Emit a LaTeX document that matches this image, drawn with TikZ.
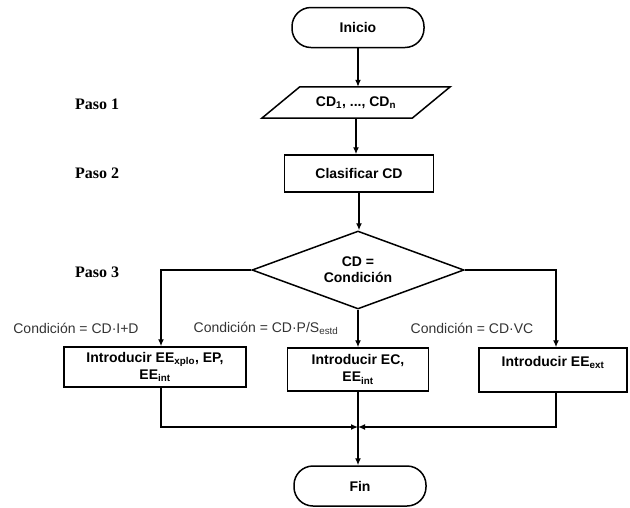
\documentclass[tikz,border=0pt]{standalone}
\usepackage{fontspec}
\setmainfont{Liberation Sans}
\newfontfamily\pasofont{Liberation Serif}
\usetikzlibrary{shapes.geometric,arrows.meta,calc}
\newcommand\subt[1]{\textsubscript{#1}}
\begin{document}
\begin{tikzpicture}[x=1pt,y=-1pt,
  terminal/.style={draw,line width=1.5pt,rounded corners=19pt,minimum width=132pt,minimum height=40pt,font=\fontsize{14}{17}\selectfont\bfseries,inner sep=0pt},
  procbox/.style={draw,line width=1.5pt,align=center,font=\fontsize{14}{17}\selectfont\bfseries,inner sep=0pt},
  pasolabel/.style={font=\fontsize{16}{19}\selectfont\pasofont\bfseries},
  condlabel/.style={font=\fontsize{14}{17}\selectfont,text=black!80},
  conn/.style={line width=1.3pt,-{Latex[length=7pt,width=6pt]}}]
\useasboundingbox (0,0) rectangle (630,507);

% main column
\node[terminal] (ini) at (358,27.5) {Inicio};
\node[minimum width=150pt,minimum height=31pt,inner sep=0pt,font=\fontsize{14}{17}\selectfont\bfseries] (p) at (356,102.5) {CD\subt{1}, ..., CD\subt{n}};
\draw[line width=1.5pt] ($(p.south west)+(-19,0)$) -- ($(p.north west)+(19,0)$) -- ($(p.north east)+(19,0)$) -- ($(p.south east)+(-19,0)$) -- cycle;
\node[procbox,minimum width=149pt,minimum height=37pt] (clas) at (359,173.5) {Clasificar CD};
\node[diamond,draw,line width=1.5pt,minimum width=212pt,minimum height=78pt,aspect=2.7,inner sep=0pt,align=center,font=\fontsize{14}{16}\selectfont\bfseries] (d) at (358,270) {CD =\\Condición};

% branches
\node[procbox,minimum width=182pt,minimum height=40pt] (b1) at (155,367) {Introducir EE\subt{xplo}, EP,\\EE\subt{int}};
\node[procbox,minimum width=141pt,minimum height=43pt] (b2) at (358,369.5) {Introducir EC,\\EE\subt{int}};
\node[procbox,minimum width=148pt,minimum height=44pt] (b3) at (553,370) {Introducir EE\subt{ext}\\\mbox{}};
\node[terminal] (fin) at (360,486) {Fin};

% labels
\node[pasolabel] (p1) at (97,104) {Paso 1};
\node[pasolabel] (p2) at (97,173) {Paso 2};
\node[pasolabel] (p3) at (97,272) {Paso 3};
\node[condlabel] (c1) at (76,328) {Condición = CD·I+D};
\node[condlabel] (c2) at (266,328) {Condición = CD·P/S\subt{estd}};
\node[condlabel] (c3) at (472,328) {Condición = CD·VC};

% connectors
\draw[conn] (ini.south) -- (ini.south |- p.north);
\draw[conn] (p.south) -- (p.south |- clas.north);
\draw[conn] (clas.south) -- (clas.south |- d.north);
\draw[conn] (d.west) -| ([xshift=6pt]b1.north);
\draw[conn] (d.south) -- (d.south |- b2.north);
\draw[conn] (d.east) -| ([xshift=3pt]b3.north);
\coordinate (m) at (358,427);
\draw[conn] ([xshift=6pt]b1.south) |- (m);
\draw[conn] ([xshift=3pt]b3.south) |- (m);
\draw[conn] (b2.south) -- (b2.south |- fin.north);
\end{tikzpicture}
\end{document}
